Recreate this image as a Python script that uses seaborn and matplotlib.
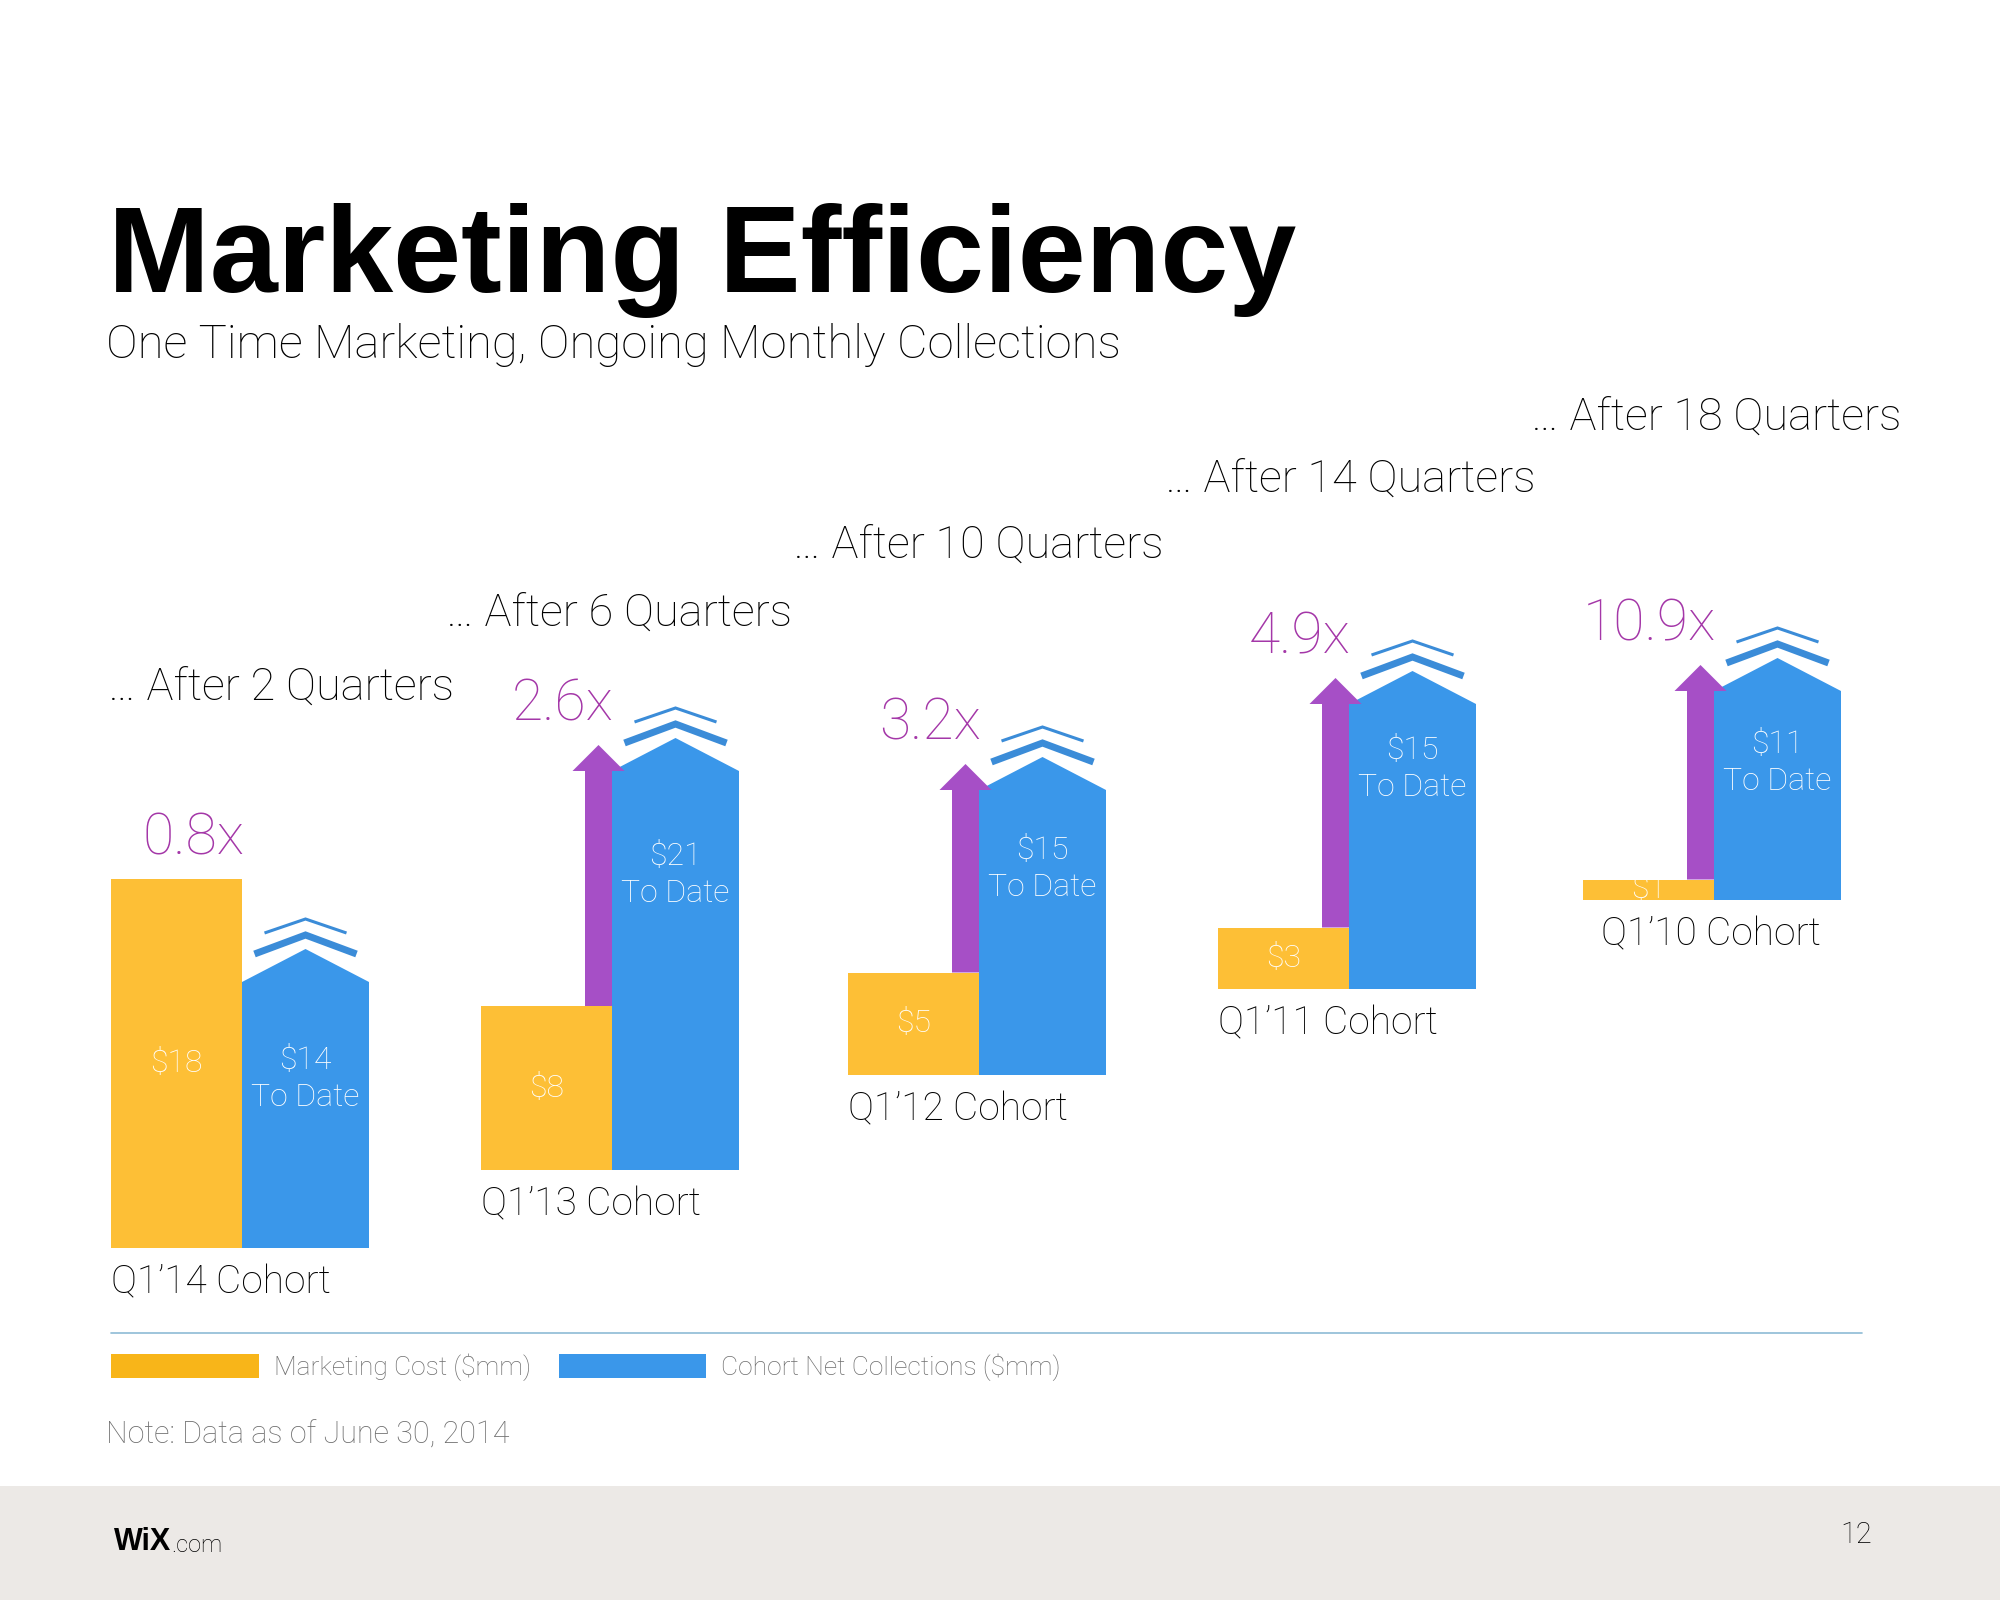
import numpy as np
import matplotlib
matplotlib.use("Agg")
import matplotlib.pyplot as plt
from matplotlib.patches import Polygon, Rectangle, Patch
import seaborn as sns

# ---------------------------------------------
# data ($mm)
# ---------------------------------------------
cohorts         = ["Q1’14", "Q1’13", "Q1’12", "Q1’11", "Q1’10"]
quarters_after  = [2, 6, 10, 14, 18]
marketing_cost  = [18, 8, 5, 3, 1]
net_collections = [14, 21, 15, 15, 11]
multiples       = [0.8, 2.6, 3.2, 4.9, 10.9]

# ---------------------------------------------
# page layout (pixels of a 2000x1600 slide)
# ---------------------------------------------
W, H       = 2000, 1600
GROUP_X    = [111, 481, 848, 1218, 1583]
BASELINE   = [1248, 1170, 1075, 989, 900]
AFTER_X    = [108, 446, 793, 1165, 1531]
AFTER_Y    = [688, 614, 546, 480, 418]
LABEL_DROP = [79, 85, 61, 46, 53]
COHORT_DX  = [0, 0, 0, 0, 18]
COST_PX    = 20.5
NET_PX     = 19
COST_W     = 131
NET_W      = 127
ROOF       = 33

YELLOW     = "#FDBF36"
YELLOW_LEG = "#F8B519"
BLUE       = "#3A97EA"
CHEVRON    = "#3B8CD8"
PURPLE     = "#A64FC6"
PURPLE_TXT = "#A437A8"
GRAY       = "#6E6E6E"
FOOTER     = "#ECE9E6"

sns.set_theme(style="white")
plt.rcParams["font.family"] = ["Roboto", "DejaVu Sans"]
LIGHT = dict(family=["Roboto", "DejaVu Sans"], fontweight="light")

fig = plt.figure(figsize=(20, 16), dpi=100)
ax = fig.add_axes([0, 0, 1, 1])
ax.set_xlim(0, W)
ax.set_ylim(H, 0)
ax.axis("off")

cost_h = np.array(marketing_cost) * COST_PX
net_h  = np.array(net_collections) * NET_PX
gx     = np.array(GROUP_X, dtype=float)
base   = np.array(BASELINE, dtype=float)

# marketing cost bars
ax.bar(gx, -cost_h, bottom=base, width=COST_W, align="edge",
       color=YELLOW, linewidth=0, zorder=2)

for i in range(len(cohorts)):
    x0 = gx[i] + COST_W
    x1 = x0 + NET_W
    xc = (x0 + x1) / 2
    shoulder = base[i] - net_h[i]
    apex = shoulder - ROOF

    # collections bar with a pointed roof
    ax.add_patch(Polygon([(x0, base[i]), (x0, shoulder), (xc, apex),
                          (x1, shoulder), (x1, base[i])],
                         closed=True, color=BLUE, lw=0, zorder=2))

    # double chevron above the roof
    ax.plot([xc - 51, xc, xc + 51], [apex + 5, apex - 14, apex + 5],
            color=CHEVRON, lw=5, solid_joinstyle="miter",
            solid_capstyle="butt", zorder=3)
    ax.plot([xc - 41, xc, xc + 41], [apex - 16, apex - 30, apex - 16],
            color=CHEVRON, lw=2.2, solid_joinstyle="miter",
            solid_capstyle="butt", zorder=3)

    cost_top = base[i] - cost_h[i]
    top = cost_top
    if net_collections[i] > marketing_cost[i]:
        tip = shoulder - 26
        ax.arrow(x0 - 13.5, cost_top, 0, tip - cost_top, width=27,
                 head_width=52, head_length=26, length_includes_head=True,
                 color=PURPLE, lw=0, zorder=4)
        top = tip

    # multiple
    ax.text(x0 + 2, top - 40, f"{multiples[i]}x", ha="right", va="center",
            fontsize=41, color=PURPLE_TXT, **LIGHT)

    # values inside bars
    ax.text(gx[i] + COST_W / 2, cost_top + cost_h[i] / 2, f"${marketing_cost[i]}",
            ha="center", va="center", fontsize=23, color="white", zorder=5, **LIGHT)
    ax.text(xc, shoulder + LABEL_DROP[i], f"${net_collections[i]}",
            ha="center", va="center", fontsize=23, color="white", zorder=5, **LIGHT)
    ax.text(xc, shoulder + LABEL_DROP[i] + 37, "To Date",
            ha="center", va="center", fontsize=23, color="white", zorder=5, **LIGHT)

    # cohort label and "after N quarters" header
    ax.text(gx[i] + COHORT_DX[i], base[i] + 35, f"{cohorts[i]} Cohort",
            ha="left", va="center", fontsize=28, color="black", **LIGHT)
    ax.text(AFTER_X[i], AFTER_Y[i], f"… After {quarters_after[i]} Quarters",
            ha="left", va="center", fontsize=32.5, color="black", **LIGHT)

# titles
ax.text(108, 292, "Marketing Efficiency", fontsize=88, fontweight="bold",
        family="Liberation Sans", color="black", va="baseline")
ax.text(106, 358, "One Time Marketing, Ongoing Monthly Collections",
        fontsize=34, color="black", va="baseline", **LIGHT)

# divider and legend
ax.plot([111, 1862], [1333, 1333], color="#8DBBD6", lw=1.2)
handles = [Patch(color=YELLOW_LEG, lw=0), Patch(color=BLUE, lw=0)]
leg = ax.legend(handles, ["Marketing Cost ($mm)", "Cohort Net Collections ($mm)"],
                loc="center left", bbox_to_anchor=(111 / W, 1 - 1367 / H),
                ncol=2, frameon=False, handlelength=5.6, handleheight=1.0,
                handletextpad=0.57, columnspacing=1.05, borderpad=0,
                borderaxespad=0, prop=dict(size=19, weight="light",
                                          family=["Roboto", "DejaVu Sans"]))
for t in leg.get_texts():
    t.set_color(GRAY)

ax.text(106, 1435, "Note: Data as of June 30, 2014", fontsize=22, color=GRAY,
        va="center", **LIGHT)

# footer band
ax.add_patch(Rectangle((0, 1486), W, H - 1486, color=FOOTER, lw=0, zorder=0))
wix = ax.text(114, 1550, "WiX", fontsize=22, fontweight="bold",
              family="Liberation Sans", color="black", va="baseline")
ax.annotate(".com", xy=(1, 0), xycoords=wix, fontsize=17, color="black",
            va="bottom", ha="left", **LIGHT)
ax.text(1872, 1535, "12", fontsize=21, color="black", ha="right", va="center", **LIGHT)

fig.savefig("out.png", dpi=100, facecolor="white")
